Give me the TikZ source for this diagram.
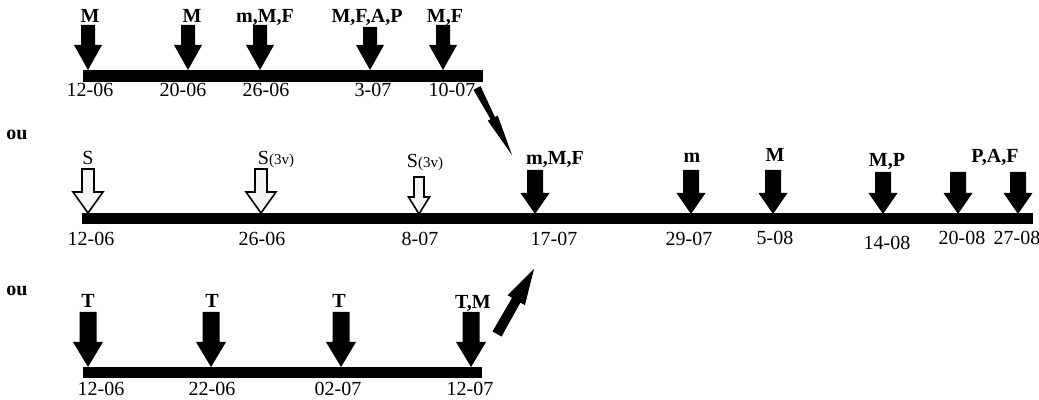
\documentclass[tikz,border=0pt]{standalone}
\usepackage{fontspec}
\setmainfont{Liberation Serif}
\usetikzlibrary{calc}
% #1 style, #2 tip x, #3 tip y, #4 shaft top y, #5 shaft half width, #6 head half width, #7 head base y
\newcommand{\vdarrow}[7]{\path[#1] (#2-#5,#4) -- (#2+#5,#4) -- (#2+#5,#7) -- (#2+#6,#7) -- (#2,#3) -- (#2-#6,#7) -- (#2-#5,#7) -- cycle;}
\begin{document}
\begin{tikzpicture}[x=0.5pt,y=-0.5pt,
  lbl/.style={anchor=base,inner sep=0pt,font=\fontsize{10}{12}\selectfont\bfseries},
  slbl/.style={anchor=base,inner sep=0pt,font=\fontsize{10}{12}\selectfont},
  datelbl/.style={anchor=base,inner sep=0pt,font=\fontsize{10}{12}\selectfont},
  oulbl/.style={anchor=base,inner sep=0pt,font=\fontsize{10}{12}\selectfont\bfseries},
  solidarrow/.style={fill=black},
  hollowarrow/.style={draw=black,line width=0.8pt,fill=gray!8},
  timebar/.style={fill=black},
  diagarrow/.style={fill=black}]
\useasboundingbox (0,0) rectangle (1039,400);

% ---------- top timeline ----------
\path[timebar] (83,70) rectangle (483,82);
\vdarrow{solidarrow}{88}{70}{25}{7}{14}{45}
\vdarrow{solidarrow}{188}{70}{25}{7}{14}{45}
\vdarrow{solidarrow}{260}{70}{25}{7}{14}{45}
\vdarrow{solidarrow}{370}{70}{27}{7}{14}{45}
\vdarrow{solidarrow}{443}{70}{25}{7}{14}{45}
\node[lbl] (t1) at (90,23) {M};
\node[lbl] (t2) at (192,23) {M};
\node[lbl] (t3) at (265,23) {m,M,F};
\node[lbl] (t4) at (367,23) {M,F,A,P};
\node[lbl] (t5) at (445,23) {M,F};
\node[datelbl] (td1) at (90,97) {12-06};
\node[datelbl] (td2) at (183,97) {20-06};
\node[datelbl] (td3) at (266,97) {26-06};
\node[datelbl] (td4) at (373,97) {3-07};
\node[datelbl] (td5) at (452,97) {10-07};

% ---------- middle timeline ----------
\node[oulbl] (ou1) at (17,140) {ou};
\path[timebar] (82,213) rectangle (1033,224);
\vdarrow{hollowarrow}{88}{213}{169}{6}{15}{192}
\vdarrow{hollowarrow}{261}{213}{169}{6}{15}{192}
\vdarrow{hollowarrow}{419}{214}{177}{5}{10.5}{197}
\vdarrow{solidarrow}{535}{214}{170}{8}{14.5}{193}
\vdarrow{solidarrow}{691}{214}{170}{8}{14.5}{193}
\vdarrow{solidarrow}{773}{214}{170}{8}{14.5}{193}
\vdarrow{solidarrow}{883}{214}{172}{8}{14.5}{193}
\vdarrow{solidarrow}{958}{214}{172}{8}{14.5}{193}
\vdarrow{solidarrow}{1018}{214}{172}{8}{14.5}{193}
\node[slbl] (m1) at (88,165) {S};
\node[slbl] (m2) at (276,165) {S\fontsize{7.5}{8}\selectfont(3v)};
\node[slbl] (m3) at (425,168) {S\fontsize{7.5}{8}\selectfont(3v)};
\node[lbl] (m4) at (555,165) {m,M,F};
\node[lbl] (m5) at (692,163) {m};
\node[lbl] (m6) at (775,162) {M};
\node[lbl] (m7) at (887,167) {M,P};
\node[lbl] (m8) at (995,163) {P,A,F};
\node[datelbl] (md1) at (91,246) {12-06};
\node[datelbl] (md2) at (262,246) {26-06};
\node[datelbl] (md3) at (420,246) {8-07};
\node[datelbl] (md4) at (554,246) {17-07};
\node[datelbl] (md5) at (689,246) {29-07};
\node[datelbl] (md6) at (775,245) {5-08};
\node[datelbl] (md7) at (887,250) {14-08};
\node[datelbl] (md8) at (962,245) {20-08};
\node[datelbl] (md9) at (1017,245) {27-08};

% ---------- bottom timeline ----------
\node[oulbl] (ou2) at (17,296) {ou};
\path[timebar] (83,367) rectangle (482,378);
\vdarrow{solidarrow}{88}{367}{312}{8.5}{15}{342}
\vdarrow{solidarrow}{211}{367}{312}{8.5}{15}{342}
\vdarrow{solidarrow}{341}{367}{312}{8.5}{15}{342}
\vdarrow{solidarrow}{471}{367}{312}{8.5}{15}{342}
\node[lbl] (b1) at (88,308) {T};
\node[lbl] (b2) at (212,308) {T};
\node[lbl] (b3) at (339,308) {T};
\node[lbl] (b4) at (473,309) {T,M};
\node[datelbl] (bd1) at (101,396) {12-06};
\node[datelbl] (bd2) at (212,396) {22-06};
\node[datelbl] (bd3) at (338,396) {02-07};
\node[datelbl] (bd4) at (470,396) {12-07};

% ---------- diagonal connectors ----------
\coordinate (d1s) at (477,88);
\coordinate (d1e) at (512,155);
\coordinate (d1m) at ($(d1s)!0.45!(d1e)$);
\path[diagarrow] ($(d1s)!2pt!90:(d1e)$) -- ($(d1m)!1.2pt!90:(d1e)$) -- ($(d1m)!2.8pt!90:(d1e)$) -- (d1e)
  -- ($(d1m)!2.8pt!-90:(d1e)$) -- ($(d1m)!1.2pt!-90:(d1e)$) -- ($(d1s)!2pt!-90:(d1e)$) -- cycle;

\coordinate (d2s) at (497,334);
\coordinate (d2e) at (534,269);
\coordinate (d2m) at ($(d2s)!0.52!(d2e)$);
\path[diagarrow] ($(d2s)!2.6pt!90:(d2e)$) -- ($(d2m)!2.4pt!90:(d2e)$) -- ($(d2m)!5pt!90:(d2e)$) -- (d2e)
  -- ($(d2m)!5pt!-90:(d2e)$) -- ($(d2m)!2.4pt!-90:(d2e)$) -- ($(d2s)!2.6pt!-90:(d2e)$) -- cycle;
\end{tikzpicture}
\end{document}
